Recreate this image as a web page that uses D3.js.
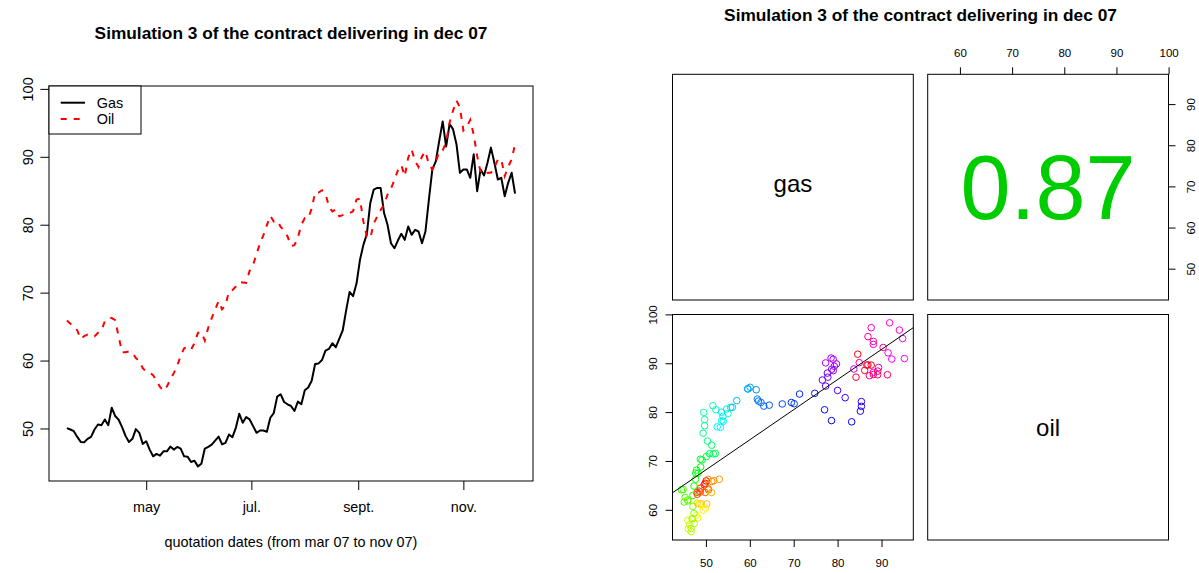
<!DOCTYPE html>
<html>
<head>
<meta charset="utf-8">
<script src="https://cdn.jsdelivr.net/npm/d3@7"></script>
<style>
  body { margin: 0; background: #fff; }
  svg text { font-family: "Liberation Sans", Arial, Helvetica, sans-serif; fill: #000; }
</style>
</head>
<body>
<svg id="chart" width="1199" height="573"></svg>
<script>
// quotation dates, as day of year 2007 (mid march .. end of november)
const days = [
  75, 77, 79, 81, 83, 85, 87, 89, 91, 93,
  95, 97, 99, 101, 103, 105, 107, 109, 111, 113,
  115, 117, 119, 121, 123, 125, 127, 129, 131, 133,
  135, 137, 139, 141, 143, 145, 147, 149, 151, 153,
  155, 157, 159, 161, 163, 165, 167, 169, 171, 173,
  175, 177, 179, 181, 183, 185, 187, 189, 191, 193,
  195, 197, 199, 201, 203, 205, 207, 209, 211, 213,
  215, 217, 219, 221, 223, 225, 227, 229, 231, 233,
  235, 237, 239, 241, 243, 245, 247, 249, 251, 253,
  255, 257, 259, 261, 263, 265, 267, 269, 271, 273,
  275, 277, 279, 281, 283, 285, 287, 289, 291, 293,
  295, 297, 299, 301, 303, 305, 307, 309, 311, 313,
  315, 317, 319, 321, 323, 325, 327, 329, 331, 333,
  335
];

const gas = [
  50.05, 49.85, 49.6, 48.76, 48.02, 47.97, 48.47, 48.76, 49.85, 50.59,
  50.49, 51.33, 50.49, 53.06, 51.83, 51.28, 50.2, 48.91, 48.02, 48.47,
  49.9, 49.36, 47.73, 48.12, 46.89, 45.9, 46.25, 46.0, 46.64, 46.64,
  47.33, 46.89, 47.28, 47.04, 45.9, 45.85, 45.06, 45.26, 44.42, 44.81,
  47.04, 47.28, 47.63, 48.22, 48.81, 47.68, 47.88, 49.11, 48.72, 50.1,
  52.17, 50.84, 51.68, 51.33, 50.35, 49.36, 49.7, 49.7, 49.51, 51.58,
  52.27, 54.69, 55.04, 53.9, 53.56, 53.31, 52.57, 53.95, 53.56, 55.63,
  56.03, 57.02, 59.49, 59.58, 60.08, 61.46, 61.71, 62.55, 61.96, 63.19,
  64.43, 67.39, 70.11, 69.47, 71.34, 74.8, 77.03, 78.61, 83.2, 85.18,
  85.42, 85.42, 81.72, 79.99, 77.27, 76.53, 77.67, 78.66, 77.77, 79.74,
  78.51, 79.25, 79.0, 77.27, 79.0, 83.7, 88.14, 89.33, 92.34, 95.21,
  91.5, 94.81, 94.07, 91.85, 87.65, 88.14, 88.14, 86.91, 90.37, 84.93,
  88.14, 87.25, 89.13, 91.35, 89.13, 86.66, 86.91, 84.19, 86.17, 87.65,
  84.58
];

const oil = [
  65.91, 65.42, 65.12, 64.43, 63.19, 63.59, 63.83, 63.64, 63.54, 64.08,
  64.38, 65.81, 66.25, 66.25, 65.96, 63.54, 61.22, 61.22, 61.36, 61.17,
  60.38, 59.93, 58.89, 58.35, 58.2, 57.86, 56.97, 56.13, 55.53, 56.18,
  57.21, 58.15, 59.24, 60.72, 61.81, 62.01, 61.61, 62.55, 64.08, 64.18,
  62.94, 64.87, 66.25, 67.49, 68.77, 67.54, 68.13, 70.21, 70.36, 70.9,
  71.54, 71.49, 71.44, 73.22, 74.06, 75.69, 77.22, 78.46, 79.94, 81.32,
  80.48, 80.63, 79.69, 79.15, 78.26, 76.88, 76.98, 78.11, 79.99, 80.98,
  80.98, 82.36, 84.78, 84.73, 85.08, 84.58, 82.66, 81.97, 82.26, 81.23,
  81.42, 81.67, 81.72, 81.97, 83.7, 83.84, 80.48, 78.26, 78.01, 80.19,
  81.18, 82.16, 82.95, 84.44, 85.33, 86.56, 87.99, 88.78, 87.15, 89.87,
  91.06, 89.38, 88.49, 90.07, 90.81, 88.83, 88.14, 89.13, 90.86, 90.96,
  92.14, 95.06, 96.79, 98.27, 97.28, 93.87, 94.47, 95.45, 93.23, 90.12,
  87.7, 87.45, 87.65, 87.65, 88.39, 89.62, 89.67, 87.15, 88.54, 89.62,
  91.85
];

const monthTicks = ["2007-05-01", "2007-07-01", "2007-09-01", "2007-11-01"];
const monthLabels = ["may", "jul.", "sept.", "nov."];
const priceTicks = [50, 60, 70, 80, 90, 100];
const gasTicks = [50, 60, 70, 80, 90];
const oilTicks = [60, 70, 80, 90, 100];
const legendNames = ["Gas", "Oil"];
const panelNames = ["gas", "oil"];
const corrLabel = "0.87";
const mainTitle = "Simulation 3 of the contract delivering in dec 07";
const xTitle = "quotation dates (from mar 07 to nov 07)";

const svg = d3.select("#chart");

// R style range: data extent widened by 4% on each side
function pad(ext) {
    var r = ext[1] - ext[0];
    return [ext[0] - 0.04 * r, ext[1] + 0.04 * r];
}

const dates = days.map(d => new Date(2007, 0, d));
const rows = days.map((d, i) => ({ date: dates[i], gas: gas[i], oil: oil[i], i: i }));

/* ---------------- left: time series ---------------- */
const box = { left: 49, right: 533, top: 86, bottom: 481 };

const tExt = pad(d3.extent(dates, d => +d));
const x = d3.scaleTime()
            .domain([new Date(tExt[0]), new Date(tExt[1])])
            .range([box.left, box.right]);
const y = d3.scaleLinear()
            .domain(pad(d3.extent(gas.concat(oil))))
            .range([box.bottom, box.top]);

const left = svg.append("g");

left.append("text")
    .attr("x", (box.left + box.right) / 2)
    .attr("y", 39)
    .attr("text-anchor", "middle")
    .style("font-size", "17.3px")
    .style("font-weight", "bold")
    .text(mainTitle);

var yAxis = left.append("g")
    .attr("transform", "translate(" + box.left + ",0)")
    .call(d3.axisLeft(y).tickValues(priceTicks).tickSize(8.6).tickSizeOuter(0));
yAxis.select(".domain").remove();
yAxis.selectAll("text")
    .attr("transform", "rotate(-90)")
    .attr("x", 0).attr("y", -16).attr("dy", 0)
    .attr("text-anchor", "middle")
    .style("font-size", "14.4px");

var xAxis = left.append("g")
    .attr("transform", "translate(0," + box.bottom + ")")
    .call(d3.axisBottom(x)
            .tickValues(monthTicks.map(s => d3.timeParse("%Y-%m-%d")(s)))
            .tickFormat((d, i) => monthLabels[i])
            .tickSize(9).tickSizeOuter(0));
xAxis.select(".domain").remove();
xAxis.selectAll("text")
    .attr("y", 31).attr("dy", 0)
    .style("font-size", "14.4px");

left.selectAll(".tick line").attr("stroke", "#000");
left.selectAll(".tick text").attr("fill", "#000");

left.append("text")
    .attr("x", (box.left + box.right) / 2)
    .attr("y", 547)
    .attr("text-anchor", "middle")
    .style("font-size", "14.4px")
    .text(xTitle);

const line = key => d3.line().x(d => x(d.date)).y(d => y(d[key]));

left.append("path")
    .datum(rows)
    .attr("d", line("gas"))
    .attr("fill", "none")
    .attr("stroke", "#000")
    .attr("stroke-width", 2)
    .attr("stroke-linejoin", "round");

left.append("path")
    .datum(rows)
    .attr("d", line("oil"))
    .attr("fill", "none")
    .attr("stroke", "#ff0000")
    .attr("stroke-width", 2)
    .attr("stroke-dasharray", "6,7");

left.append("rect")
    .attr("x", box.left).attr("y", box.top)
    .attr("width", box.right - box.left).attr("height", box.bottom - box.top)
    .attr("fill", "none").attr("stroke", "#000").attr("stroke-width", 1);

// legend
var legend = left.append("g");
legend.append("rect")
    .attr("x", box.left).attr("y", box.top)
    .attr("width", 92).attr("height", 48)
    .attr("fill", "#fff").attr("stroke", "#000").attr("stroke-width", 1);
legendNames.forEach(function (name, i) {
    var ly = 102.7 + i * 16.3;
    legend.append("line")
        .attr("x1", 60.7).attr("x2", 85).attr("y1", ly).attr("y2", ly)
        .attr("stroke", i == 0 ? "#000" : "#ff0000")
        .attr("stroke-width", 2)
        .attr("stroke-dasharray", i == 0 ? null : "6,7");
    legend.append("text")
        .attr("x", 96.7).attr("y", ly + 5.2)
        .style("font-size", "14.4px")
        .text(name);
});

/* ---------------- right: pairs plot ---------------- */
const cols = [[672.5, 913.3], [927.7, 1168.5]];
const rws = [[74.3, 300], [314.5, 540]];
const right = svg.append("g");

right.append("text")
    .attr("x", (cols[0][0] + cols[1][1]) / 2)
    .attr("y", 21)
    .attr("text-anchor", "middle")
    .style("font-size", "17.3px")
    .style("font-weight", "bold")
    .text(mainTitle);

const gasDom = pad(d3.extent(gas));
const oilDom = pad(d3.extent(oil));

// lower-left panel: gas (x) vs oil (y)
const sx = d3.scaleLinear().domain(gasDom).range(cols[0]);
const sy = d3.scaleLinear().domain(oilDom).range([rws[1][1], rws[1][0]]);
// upper-right panel axes: oil (x) vs gas (y)
const tx = d3.scaleLinear().domain(oilDom).range(cols[1]);
const ty = d3.scaleLinear().domain(gasDom).range([rws[0][1], rws[0][0]]);

function styleAxis(g, rotate, off) {
    g.select(".domain").remove();
    g.selectAll(".tick line").attr("stroke", "#000");
    var t = g.selectAll("text").attr("fill", "#000").style("font-size", "11.5px");
    if (rotate) {
        t.attr("transform", "rotate(-90)")
         .attr("x", 0).attr("y", off).attr("dy", 0)
         .attr("text-anchor", "middle");
    } else {
        t.attr("y", off).attr("dy", 0);
    }
}

right.append("g")
    .attr("transform", "translate(0," + rws[1][1] + ")")
    .call(d3.axisBottom(sx).tickValues(gasTicks).tickSize(7).tickSizeOuter(0))
    .call(g => styleAxis(g, false, 26.7));
right.append("g")
    .attr("transform", "translate(" + cols[0][0] + ",0)")
    .call(d3.axisLeft(sy).tickValues(oilTicks).tickSize(7).tickSizeOuter(0))
    .call(g => styleAxis(g, true, -15.5));
right.append("g")
    .attr("transform", "translate(0," + rws[0][0] + ")")
    .call(d3.axisTop(tx).tickValues(oilTicks).tickSize(7).tickSizeOuter(0))
    .call(g => styleAxis(g, false, -17));
right.append("g")
    .attr("transform", "translate(" + cols[1][1] + ",0)")
    .call(d3.axisRight(ty).tickValues(gasTicks).tickSize(7).tickSizeOuter(0))
    .call(g => styleAxis(g, true, 26.5));

// scatter points, coloured along time like rainbow(n)
svg.append("clipPath").attr("id", "clipLL")
    .append("rect")
    .attr("x", cols[0][0]).attr("y", rws[1][0])
    .attr("width", cols[0][1] - cols[0][0]).attr("height", rws[1][1] - rws[1][0]);

const n = rows.length;
right.append("g")
    .selectAll("circle")
    .data(rows)
    .enter()
    .append("circle")
    .attr("cx", d => sx(d.gas))
    .attr("cy", d => sy(d.oil))
    .attr("r", 3.3)
    .attr("fill", "none")
    .attr("stroke-width", 1)
    .attr("stroke", d => d3.hsl(360 * d.i / n, 1, 0.5).formatHex());

// least squares line oil ~ gas
var mg = d3.mean(gas), mo = d3.mean(oil);
var slope = d3.sum(rows, d => (d.gas - mg) * (d.oil - mo)) / d3.sum(rows, d => (d.gas - mg) * (d.gas - mg));
var icpt = mo - slope * mg;
right.append("line")
    .attr("clip-path", "url(#clipLL)")
    .attr("x1", sx(gasDom[0])).attr("y1", sy(icpt + slope * gasDom[0]))
    .attr("x2", sx(gasDom[1])).attr("y2", sy(icpt + slope * gasDom[1]))
    .attr("stroke", "#000").attr("stroke-width", 1);

// panel frames
[[0, 0], [1, 0], [0, 1], [1, 1]].forEach(function (p) {
    right.append("rect")
        .attr("x", cols[p[0]][0]).attr("y", rws[p[1]][0])
        .attr("width", cols[p[0]][1] - cols[p[0]][0])
        .attr("height", rws[p[1]][1] - rws[p[1]][0])
        .attr("fill", "none").attr("stroke", "#000").attr("stroke-width", 1);
});

// diagonal labels and correlation
right.append("text")
    .attr("x", (cols[0][0] + cols[0][1]) / 2)
    .attr("y", (rws[0][0] + rws[0][1]) / 2 + 4.5)
    .attr("text-anchor", "middle")
    .style("font-size", "24px")
    .text(panelNames[0]);
right.append("text")
    .attr("x", (cols[1][0] + cols[1][1]) / 2)
    .attr("y", (rws[1][0] + rws[1][1]) / 2 + 8.8)
    .attr("text-anchor", "middle")
    .style("font-size", "24px")
    .text(panelNames[1]);
right.append("text")
    .attr("x", (cols[1][0] + cols[1][1]) / 2)
    .attr("y", (rws[0][0] + rws[0][1]) / 2 + 32)
    .attr("text-anchor", "middle")
    .style("font-size", "90px")
    .style("fill", "#00cd00")
    .text(corrLabel);
</script>
</body>
</html>
